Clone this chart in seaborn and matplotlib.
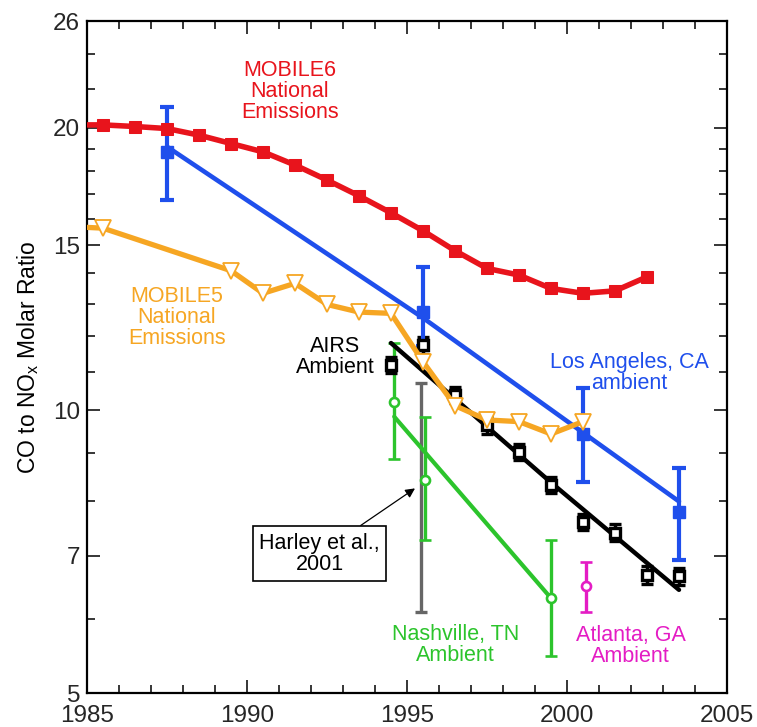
import numpy as np
import pandas as pd
import matplotlib
matplotlib.use("Agg")
import matplotlib.pyplot as plt
from matplotlib.ticker import FixedLocator, NullFormatter, FixedFormatter, MultipleLocator
import seaborn as sns

# ---------------- data ----------------
m6_years = [1984.5, 1985.5, 1986.5, 1987.5, 1988.5, 1989.5, 1990.5, 1991.5, 1992.5,
            1993.5, 1994.5, 1995.5, 1996.5, 1997.5, 1998.5, 1999.5, 2000.5, 2001.5, 2002.5]
m6_ratio = [20.15, 20.15, 20.07, 19.97, 19.65, 19.25, 18.86, 18.26, 17.6,
            16.93, 16.24, 15.54, 14.8, 14.17, 13.94, 13.49, 13.33, 13.41, 13.88]

m5_years = [1984.5, 1985.5, 1989.5, 1990.5, 1991.5, 1992.5, 1993.5, 1994.5,
            1995.5, 1996.5, 1997.5, 1998.5, 1999.5, 2000.5]
m5_ratio = [15.7, 15.64, 14.09, 13.33, 13.66, 12.97, 12.73, 12.69,
            11.27, 10.12, 9.77, 9.73, 9.44, 9.73]

la_years = [1987.5, 1995.5, 2000.5, 2003.5]
la_ratio = [18.87, 12.74, 9.45, 7.8]
la_lo = [16.76, 11.7, 8.4, 6.93]
la_hi = [21.04, 14.22, 10.56, 8.68]
la_fit_years = [1987.5, 1995.5, 2003.5]
la_fit_ratio = [19.1, 12.55, 8.0]

airs_years = [1994.5, 1995.5, 1996.5, 1997.5, 1998.5, 1999.5, 2000.5, 2001.5, 2002.5, 2003.5]
airs_ratio = [11.18, 11.74, 10.39, 9.65, 9.04, 8.33, 7.61, 7.41, 6.68, 6.66]
airs_err = [0.23, 0.24, 0.21, 0.2, 0.18, 0.17, 0.15, 0.15, 0.14, 0.14]
airs_fit_years = [1994.5, 1999.5, 2003.5]
airs_fit_ratio = [11.8, 8.38, 6.44]

nash_years = [1994.6, 1995.55, 1999.5]
nash_ratio = [10.22, 8.43, 6.31]
nash_lo = [8.87, 7.28, 5.47]
nash_hi = [11.81, 9.85, 7.28]
nash_fit_years = [1994.6, 1999.5]
nash_fit_ratio = [9.85, 6.31]

harley_years = [1995.45]
harley_ratio = [8.1]
harley_lo = [6.1]
harley_hi = [10.69]

atl_years = [2000.6]
atl_ratio = [6.5]
atl_lo = [6.1]
atl_hi = [6.9]

y_major = [5, 7, 10, 15, 20, 26]
y_minor = [6, 8, 9, 11, 12, 13, 14, 16, 17, 18, 19, 22, 24]
x_major = [1985, 1990, 1995, 2000, 2005]

# ---------------- style ----------------
sns.set_theme(style="white")
plt.rcParams['font.family'] = ['Liberation Sans', 'DejaVu Sans']
plt.rcParams['mathtext.default'] = 'regular'

RED = "#e8141c"
ORANGE = "#f6a623"
BLUE = "#1f4fec"
GREEN = "#2cc42c"
MAGENTA = "#e41cc4"
GRAY = "#666666"

fig = plt.figure(figsize=(7.57, 7.27), dpi=100)
ax = fig.add_axes([87/757, 34/727, 640/757, 672/727])
ax.set_yscale('log')


def errs(vals, lo, hi):
    v = np.asarray(vals)
    return np.vstack([v - np.asarray(lo), np.asarray(hi) - v])


# Harley (gray)
ax.errorbar(harley_years, harley_ratio, yerr=errs(harley_ratio, harley_lo, harley_hi),
            fmt='none', ecolor=GRAY, elinewidth=2.4, capsize=4.6, capthick=2.4, zorder=2)

# Nashville (green)
sns.lineplot(x=nash_fit_years, y=nash_fit_ratio, ax=ax, color=GREEN, lw=3.0,
             sort=False, errorbar=None, zorder=3)
ax.errorbar(nash_years, nash_ratio, yerr=errs(nash_ratio, nash_lo, nash_hi),
            fmt='o', color=GREEN, ms=6.5, mfc='white', mec=GREEN, mew=1.9,
            elinewidth=2.4, capsize=4.6, capthick=2.4, zorder=4)

# Atlanta (magenta)
ax.errorbar(atl_years, atl_ratio, yerr=errs(atl_ratio, atl_lo, atl_hi),
            fmt='o', color=MAGENTA, ms=6.5, mfc='white', mec=MAGENTA, mew=1.9,
            elinewidth=2.4, capsize=4.6, capthick=2.4, zorder=4)

# AIRS (black)
sns.lineplot(x=airs_fit_years, y=airs_fit_ratio, ax=ax, color='black', lw=3.2,
             sort=False, errorbar=None, zorder=5)
ax.errorbar(airs_years, airs_ratio, yerr=airs_err, fmt='s', color='black',
            ms=6.8, mfc='white', mec='black', mew=2.4,
            elinewidth=2.5, capsize=4.2, capthick=3, zorder=6)

# Los Angeles (blue)
ax.errorbar(la_years, la_ratio, yerr=errs(la_ratio, la_lo, la_hi),
            fmt='s', color=BLUE, ms=8.5, mec=BLUE,
            elinewidth=3.0, capsize=4.8, capthick=3.0, zorder=6)
sns.lineplot(x=la_fit_years, y=la_fit_ratio, ax=ax, color=BLUE, lw=3.3,
             sort=False, errorbar=None, zorder=6)

# MOBILE5 (orange)
sns.lineplot(x=m5_years, y=m5_ratio, ax=ax, color=ORANGE, lw=3.8, sort=False,
             errorbar=None, marker='v', markersize=11, markerfacecolor='white',
             markeredgecolor=ORANGE, markeredgewidth=1.3, zorder=7)

# MOBILE6 (red)
sns.lineplot(x=m6_years, y=m6_ratio, ax=ax, color=RED, lw=4.0, sort=False,
             errorbar=None, marker='s', markersize=9.2, markerfacecolor=RED,
             markeredgecolor=RED, zorder=8)

# ---------------- axes ----------------
ax.set_xlim(1985, 2005)
ax.set_ylim(5, 26)
ax.xaxis.set_major_locator(FixedLocator(x_major))
ax.xaxis.set_major_formatter(FixedFormatter([str(v) for v in x_major]))
ax.xaxis.set_minor_locator(MultipleLocator(1))
ax.yaxis.set_major_locator(FixedLocator(y_major))
ax.yaxis.set_major_formatter(FixedFormatter([str(v) for v in y_major]))
ax.yaxis.set_minor_locator(FixedLocator(y_minor))
ax.yaxis.set_minor_formatter(NullFormatter())

ax.tick_params(which='both', direction='in', top=True, right=True, bottom=True, left=True,
               color='black', width=1.1)
ax.tick_params(which='major', length=9.5, labelsize=17.5, pad=5)
ax.tick_params(axis='x', which='major', pad=9)
ax.tick_params(which='minor', length=5.5)
for s in ax.spines.values():
    s.set_color('black')
    s.set_linewidth(1.6)

ax.set_xlabel('')
ax.set_ylabel('CO to NO$_x$ Molar Ratio', fontsize=16.5, color='black')
ax.yaxis.set_label_coords(-0.072, 0.5)
ax.grid(False)
legend = ax.get_legend()
if legend is not None:
    legend.remove()

# ---------------- annotations ----------------
fs = 15.5
ax.text(1991.34, 21.86, 'MOBILE6\nNational\nEmissions', color=RED, fontsize=fs,
        ha='center', va='center', linespacing=1.0)
ax.text(1987.81, 12.55, 'MOBILE5\nNational\nEmissions', color=ORANGE, fontsize=fs,
        ha='center', va='center', linespacing=1.0)
ax.text(1992.75, 11.39, 'AIRS\nAmbient', color='black', fontsize=fs,
        ha='center', va='center', linespacing=1.0)
ax.text(2001.94, 10.97, 'Los Angeles, CA\nambient', color=BLUE, fontsize=fs,
        ha='center', va='center', linespacing=1.0)
ax.text(1996.52, 5.62, 'Nashville, TN\nAmbient', color=GREEN, fontsize=fs,
        ha='center', va='center', linespacing=1.0)
ax.text(2001.99, 5.61, 'Atlanta, GA\nAmbient', color=MAGENTA, fontsize=fs,
        ha='center', va='center', linespacing=1.0)
ax.annotate('Harley et al.,\n2001', xy=(1995.25, 8.26), xytext=(1992.27, 7.04),
            fontsize=fs, ha='center', va='center', linespacing=1.0, color='black',
            bbox=dict(boxstyle='square,pad=0.3', fc='white', ec='black', lw=1.2),
            arrowprops=dict(arrowstyle='-|>', color='black', lw=0.9,
                            mutation_scale=14, shrinkA=0, shrinkB=0),
            zorder=9)

fig.savefig('out.png', dpi=100)
